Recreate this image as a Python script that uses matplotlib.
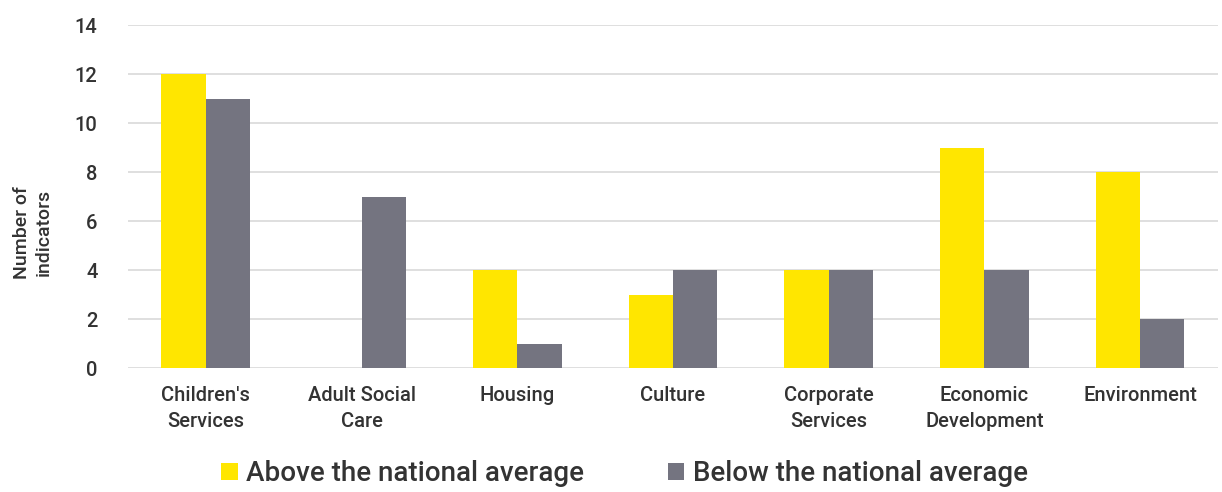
import numpy as np
import matplotlib.pyplot as plt

# Datos
categorias = ["Children's\nServices", "Adult Social\nCare", "Housing", "Culture",
              "Corporate\nServices", "Economic\nDevelopment", "Environment"]
above = [12, 0, 4, 3, 4, 9, 8]
below = [11, 7, 1, 4, 4, 4, 2]

amarillo = '#FFE600'
gris = '#747480'
texto = '#333333'

plt.rcParams['font.family'] = ['Roboto', 'DejaVu Sans']
plt.rcParams['font.weight'] = 'medium'

fig = plt.figure(figsize=(12.22, 4.92), dpi=100)
ax = fig.add_axes([0.1047, 0.252, 0.892, 0.697])

x = np.arange(len(categorias))
ancho = 0.285
ax.bar(x - ancho / 2, above, ancho, color=amarillo, label='Above the national average', zorder=3)
ax.bar(x + ancho / 2, below, ancho, color=gris, label='Below the national average', zorder=3)

ax.set_xlim(-0.5, len(categorias) - 0.5)
ax.set_ylim(0, 14)
ax.set_yticks(range(0, 15, 2))
ax.set_xticks(x)
ax.set_xticklabels(categorias, fontsize=14.5, color=texto, linespacing=1.45)
ax.tick_params(axis='y', labelsize=14.5, labelcolor=texto, length=0, pad=22)
ax.tick_params(axis='x', length=0, pad=13)
ax.grid(axis='y', color='#D9D9D9', linewidth=1.2, zorder=0)
for s in ax.spines.values():
    s.set_visible(False)

fig.text(0.027, 0.528, 'Number of\nindicators', rotation=90, ha='center', va='center',
         fontsize=14, color=texto, linespacing=1.25)

fig.legend(loc='center', bbox_to_anchor=(0.511, 0.037), ncol=2, frameon=False,
           fontsize=20, labelcolor=texto, handlelength=0.6, handleheight=0.6,
           handletextpad=0.3, columnspacing=3.0, borderpad=0.1)

fig.savefig('out.png', dpi=100)
